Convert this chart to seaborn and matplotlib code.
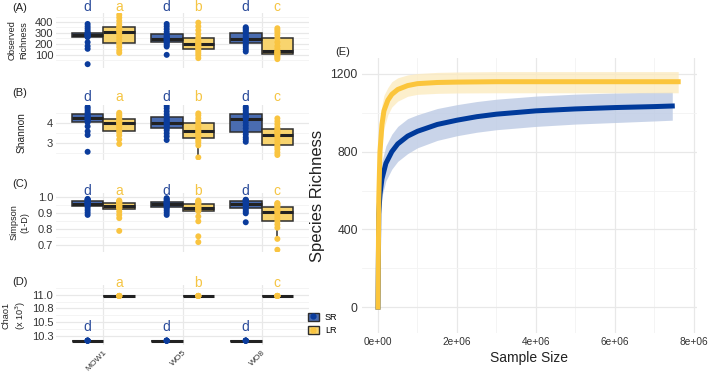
import numpy as np
import pandas as pd
import matplotlib
matplotlib.use("Agg")
import matplotlib.pyplot as plt
import seaborn as sns
from matplotlib.patches import Patch
from matplotlib.lines import Line2D
from matplotlib.ticker import FixedLocator
import matplotlib.transforms as mtransforms
from matplotlib import font_manager

plt.rcParams['font.family'] = ['Liberation Sans', 'DejaVu Sans']
_names = {f.name for f in font_manager.fontManager.ttflist}
NARROW = 'Liberation Sans Narrow' if 'Liberation Sans Narrow' in _names else 'Liberation Sans'

# ---------------- data ----------------
sites = ["MOW1", "WO5", "WO8"]
groups = ["SR", "LR"]

observed_SR = [
    [15, 155, 180, 215, 261, 268, 272, 278, 282, 286, 290, 296, 303, 320, 340, 360, 382],
    [100, 176, 190, 205, 215, 225, 235, 242, 248, 255, 265, 275, 288, 310, 335, 360, 382],
    [130, 150, 170, 190, 206, 218, 228, 238, 245, 255, 270, 288, 303, 318, 330, 342, 352],
]
observed_LR = [
    [118, 140, 170, 195, 212, 235, 260, 285, 306, 320, 332, 345, 357, 380, 410, 440, 465],
    [70, 95, 115, 135, 152, 165, 178, 188, 197, 208, 220, 238, 257, 290, 325, 360, 394],
    [61, 75, 88, 98, 106, 115, 122, 130, 136, 155, 180, 215, 252, 280, 305, 325, 343],
]
shannon_SR = [
    [2.58, 3.42, 3.6, 3.85, 4.05, 4.12, 4.18, 4.22, 4.25, 4.3, 4.35, 4.4, 4.47, 4.55, 4.65, 4.75, 4.83],
    [3.17, 3.35, 3.5, 3.65, 3.75, 3.83, 3.9, 3.97, 4.03, 4.1, 4.17, 4.25, 4.33, 4.45, 4.6, 4.75, 4.87],
    [3.08, 3.2, 3.3, 3.45, 3.58, 3.75, 3.9, 4.05, 4.22, 4.3, 4.36, 4.42, 4.47, 4.55, 4.65, 4.75, 4.83],
]
shannon_LR = [
    [2.97, 3.2, 3.4, 3.55, 3.63, 3.75, 3.85, 3.93, 4.0, 4.05, 4.1, 4.15, 4.2, 4.3, 4.38, 4.45, 4.53],
    [2.3, 2.9, 3.05, 3.15, 3.25, 3.38, 3.47, 3.55, 3.62, 3.7, 3.78, 3.88, 4.0, 4.12, 4.25, 4.4, 4.5],
    [2.42, 2.55, 2.7, 2.82, 2.92, 3.05, 3.18, 3.3, 3.42, 3.5, 3.57, 3.63, 3.7, 3.8, 3.95, 4.1, 4.25],
]
simpson_SR = [
    [0.89, 0.905, 0.92, 0.935, 0.948, 0.952, 0.955, 0.958, 0.96, 0.963, 0.966, 0.97, 0.975, 0.98, 0.984, 0.987, 0.99],
    [0.89, 0.905, 0.918, 0.93, 0.938, 0.944, 0.949, 0.954, 0.958, 0.961, 0.964, 0.967, 0.97, 0.975, 0.982, 0.989, 0.995],
    [0.844, 0.9, 0.91, 0.922, 0.933, 0.94, 0.947, 0.954, 0.96, 0.964, 0.967, 0.971, 0.975, 0.978, 0.981, 0.983, 0.985],
]
simpson_LR = [
    [0.79, 0.87, 0.89, 0.91, 0.929, 0.933, 0.937, 0.941, 0.944, 0.948, 0.952, 0.958, 0.964, 0.968, 0.972, 0.976, 0.98],
    [0.72, 0.756, 0.85, 0.88, 0.913, 0.918, 0.923, 0.928, 0.933, 0.938, 0.943, 0.95, 0.958, 0.964, 0.97, 0.975, 0.98],
    [0.672, 0.74, 0.81, 0.83, 0.85, 0.865, 0.88, 0.895, 0.908, 0.915, 0.922, 0.93, 0.94, 0.948, 0.955, 0.96, 0.964],
]
chao1_SR = [
    [10.16, 10.16, 10.16, 10.16, 10.16],
    [10.16, 10.16, 10.16, 10.16, 10.16],
    [10.16, 10.16, 10.16, 10.16, 10.16],
]
chao1_LR = [
    [10.98, 10.98, 10.98, 10.98, 10.98],
    [10.98, 10.98, 10.98, 10.98, 10.98],
    [10.98, 10.98, 10.98, 10.98, 10.98],
]
letters_SR = ["d", "d", "d"]
letters_LR = ["a", "b", "c"]

# rarefaction curves (panel E)
sr_size = [0, 0.02e6, 0.05e6, 0.1e6, 0.2e6, 0.35e6, 0.5e6, 0.75e6, 1.0e6, 1.5e6, 2.0e6, 2.5e6,
           3.0e6, 4.0e6, 5.0e6, 6.0e6, 7.0e6, 7.45e6]
sr_rich = [0, 480, 580, 660, 740, 800, 840, 880, 905, 940, 962, 980, 993, 1010, 1020, 1027, 1032, 1035]
sr_low = [0, 400, 490, 570, 650, 710, 750, 790, 820, 858, 882, 900, 913, 930, 942, 950, 958, 962]
sr_high = [0, 560, 670, 750, 830, 890, 930, 970, 990, 1022, 1042, 1058, 1070, 1086, 1096, 1102, 1106, 1108]

lr_size = [0, 0.02e6, 0.05e6, 0.1e6, 0.15e6, 0.25e6, 0.35e6, 0.5e6, 0.75e6, 1.0e6, 1.5e6, 2.0e6,
           3.0e6, 4.0e6, 5.0e6, 6.0e6, 7.0e6, 7.6e6]
lr_rich = [0, 560, 800, 940, 1010, 1065, 1095, 1120, 1140, 1150, 1156, 1158, 1160, 1160, 1160, 1160, 1160, 1160]
lr_low = [0, 460, 690, 840, 920, 990, 1030, 1060, 1085, 1095, 1100, 1102, 1103, 1103, 1103, 1103, 1103, 1103]
lr_high = [0, 650, 900, 1040, 1090, 1130, 1160, 1180, 1195, 1202, 1208, 1210, 1212, 1212, 1212, 1212, 1212, 1212]

e_xticks = [0, 2e6, 4e6, 6e6, 8e6]
e_xticklabels = ["0e+00", "2e+06", "4e+06", "6e+06", "8e+06"]
e_yticks = [0, 400, 800, 1200]

# ---------------- style ----------------
box_pal = {"SR": "#4A6CB0", "LR": "#F8D46E"}
pt_pal = {"SR": "#0B3C9C", "LR": "#F9C440"}
line_pal = {"SR": "#003A9B", "LR": "#FBC53B"}
band_pal = {"SR": "#BCCAE4", "LR": "#FCEBC0"}
letter_col = {"SR": "#2B4C9B", "LR": "#F5C544"}
edge = "#2E2E2E"
gmaj = "#E8E8E8"
gmin = "#F3F3F3"
tickcol = "#333333"


def long_df(sr, lr):
    rows = []
    for site, vals in zip(sites, sr):
        rows += [(site, "SR", v) for v in vals]
    for site, vals in zip(sites, lr):
        rows += [(site, "LR", v) for v in vals]
    return pd.DataFrame(rows, columns=["site", "group", "value"])


fig = plt.figure(figsize=(7.09, 3.73), dpi=100)

W, H = 709, 373
def pos(x0, y0, x1, y1):
    return [x0 / W, 1 - y1 / H, (x1 - x0) / W, (y1 - y0) / H]

panels = [
    dict(sr=observed_SR, lr=observed_LR, box=pos(56, 13, 309, 68), ylim=(-20, 482),
         ticks=[100, 200, 300, 400], labels=["100", "200", "300", "400"],
         minor=[50, 150, 250, 350, 450], ylabel="Observed\nRichness", tag="(A)", tagy=8,
         lety=(1.11, 1.11), labx=-0.11, two=True),
    dict(sr=shannon_SR, lr=shannon_LR, box=pos(56, 105, 309, 160), ylim=(2.17, 4.92),
         ticks=[3, 4], labels=["3", "4"], minor=[2.5, 3.5, 4.5], ylabel="Shannon", tag="(B)", tagy=93,
         lety=(1.145, 1.145), labx=-0.115, two=False),
    dict(sr=simpson_SR, lr=simpson_LR, box=pos(56, 193, 309, 252), ylim=(0.658, 1.027),
         ticks=[0.7, 0.8, 0.9, 1.0], labels=["0.7", "0.8", "0.9", "1.0"],
         minor=[0.75, 0.85, 0.95], ylabel="Simpson\n(1-D)", tag="(C)", tagy=184,
         lety=(1.035, 1.035), labx=-0.105, two=True),
    dict(sr=chao1_SR, lr=chao1_LR, box=pos(56, 285, 309, 345), ylim=(10.08, 11.18),
         ticks=[10.25, 10.5, 10.75, 11.0], labels=["10.3", "10.5", "10.8", "11.0"],
         minor=[10.375, 10.625, 10.875, 11.125], ylabel="Chao1\n(x 10$^3$)", tag="(D)", tagy=282,
         lety=(0.30, 1.035), labx=-0.11, two=True),
]

for i, p in enumerate(panels):
    ax = fig.add_axes(p["box"])
    df = long_df(p["sr"], p["lr"])
    sns.boxplot(data=df, x="site", y="value", hue="group", order=sites, hue_order=groups,
                palette=box_pal, linecolor=edge, linewidth=1.1, width=0.8, gap=0,
                showfliers=False, saturation=1, legend=False, ax=ax, showcaps=False,
                medianprops=dict(linewidth=2.2, color="#222222"))
    sns.stripplot(data=df, x="site", y="value", hue="group", order=sites, hue_order=groups,
                  palette=pt_pal, dodge=True, jitter=False, size=4.3, linewidth=0,
                  legend=False, ax=ax, zorder=5)
    ax.set_xlim(-0.6, 2.6)
    ax.set_ylim(*p["ylim"])
    ax.set_yticks(p["ticks"])
    ax.set_yticklabels(p["labels"], fontsize=8, color=tickcol)
    ax.yaxis.set_minor_locator(FixedLocator(p["minor"]))
    ax.set_xticks(range(3))
    ax.grid(True, which="major", color=gmaj, lw=0.9)
    ax.grid(True, which="minor", axis="y", color=gmin, lw=0.6)
    ax.set_axisbelow(True)
    for s in ax.spines.values():
        s.set_visible(False)
    ax.tick_params(axis="both", which="both", length=0, pad=2)
    ax.set_xlabel("")
    if p["two"]:
        ax.set_ylabel(p["ylabel"], fontsize=6.6, linespacing=1.3, color="#222222",
                      family=[NARROW, 'Liberation Sans', 'DejaVu Sans'])
    else:
        ax.set_ylabel(p["ylabel"], fontsize=7.3, color="#222222")
    ax.yaxis.set_label_coords(p["labx"], 0.5)
    if i < 3:
        ax.tick_params(axis="x", labelbottom=False)
    else:
        ax.set_xticklabels(sites, rotation=45, ha="right", rotation_mode="anchor",
                           fontsize=6, color=tickcol)
        ax.tick_params(axis="x", pad=3)
    trans = mtransforms.blended_transform_factory(ax.transData, ax.transAxes)
    for j in range(3):
        ax.text(j - 0.2, p["lety"][0], letters_SR[j], transform=trans, ha="center", va="center",
                fontsize=10, color=letter_col["SR"], clip_on=False)
        ax.text(j + 0.2, p["lety"][1], letters_LR[j], transform=trans, ha="center", va="center",
                fontsize=10, color=letter_col["LR"], clip_on=False)
    fig.text(12 / W, 1 - p["tagy"] / H, p["tag"], fontsize=8, ha="left", va="center", color="#222222")

# legend
handles = [
    (Patch(facecolor=box_pal["SR"], edgecolor=edge, lw=1.0),
     Line2D([], [], marker="o", ls="", color=pt_pal["SR"], ms=3.5)),
    (Patch(facecolor=box_pal["LR"], edgecolor=edge, lw=1.0),
     Line2D([], [], marker="o", ls="", color=pt_pal["LR"], ms=3.5)),
]
fig.legend(handles, groups, loc="center left", bbox_to_anchor=(304 / W, 1 - 324 / H),
           frameon=False, fontsize=6.5, handlelength=1.3, handleheight=1.0,
           labelspacing=0.5, handletextpad=0.6, borderaxespad=0)

# ---------------- panel E ----------------
axE = fig.add_axes(pos(362, 58, 697, 333))
curve = pd.DataFrame({
    "size": sr_size + lr_size,
    "richness": sr_rich + lr_rich,
    "group": ["SR"] * len(sr_size) + ["LR"] * len(lr_size),
})
axE.fill_between(sr_size, sr_low, sr_high, color=band_pal["SR"], lw=0, alpha=0.8, zorder=1)
axE.fill_between(lr_size, lr_low, lr_high, color=band_pal["LR"], lw=0, alpha=0.8, zorder=1)
sns.lineplot(data=curve, x="size", y="richness", hue="group", hue_order=groups,
             palette=line_pal, linewidth=3.6, estimator=None, sort=False, legend=False,
             ax=axE, zorder=3)
axE.set_xlim(-0.405e6, 8.076e6)
axE.set_ylim(-133, 1282)
axE.set_xticks(e_xticks)
axE.set_xticklabels(e_xticklabels, fontsize=7.3, color=tickcol,
                    family=[NARROW, 'Liberation Sans', 'DejaVu Sans'])
axE.set_yticks(e_yticks)
axE.set_yticklabels([str(v) for v in e_yticks], fontsize=8.7, color=tickcol)
axE.xaxis.set_minor_locator(FixedLocator([1e6, 3e6, 5e6, 7e6]))
axE.yaxis.set_minor_locator(FixedLocator([200, 600, 1000]))
axE.grid(True, which="major", color=gmaj, lw=0.9)
axE.grid(True, which="minor", color=gmin, lw=0.6)
axE.set_axisbelow(True)
for s in axE.spines.values():
    s.set_visible(False)
axE.tick_params(axis="both", which="both", length=0, pad=3)
axE.set_ylabel("Species Richness", fontsize=12, labelpad=4, color="#222222")
axE.set_xlabel("Sample Size", fontsize=10, labelpad=3, color="#222222")
axE.text(-0.08, 1.022, "(E)", transform=axE.transAxes, fontsize=8, ha="left", va="center",
         color="#222222")

fig.savefig("out.png", dpi=100)
